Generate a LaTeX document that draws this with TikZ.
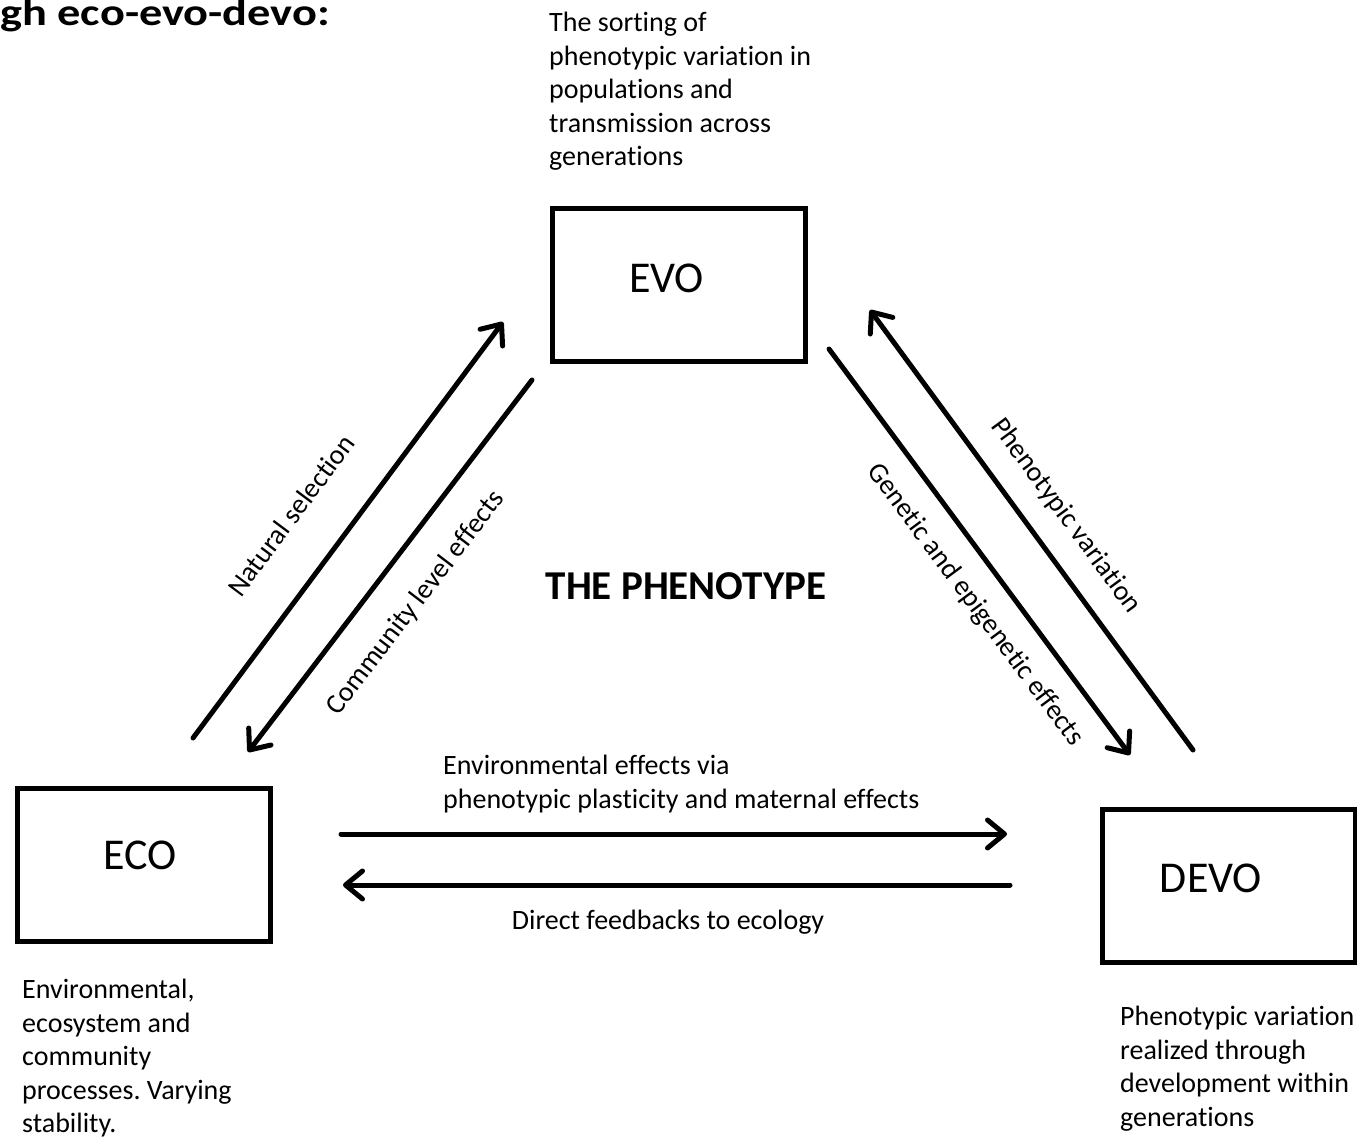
\documentclass[tikz,border=0pt]{standalone}
\usepackage{fontspec}
\setmainfont{Carlito}[Ligatures=NoCommon]
\frenchspacing
\usetikzlibrary{arrows.meta}
\tikzstyle{box} = [rectangle, draw=black, line width=5pt, minimum width=253pt, minimum height=153pt, inner sep=0pt]
\tikzstyle{boxtxt} = [font=\fontsize{44}{52}\selectfont, inner sep=0pt]
\tikzstyle{txt} = [font=\fontsize{28}{33.5}\selectfont, align=left, anchor=north west, inner sep=0pt]
\tikzstyle{lbl} = [font=\fontsize{28}{33.5}\selectfont, inner sep=0pt]
\tikzstyle{arrow} = [line width=5pt, line cap=round, -{Straight Barb[length=17pt,width=28pt,round]}]

\begin{document}
\begin{tikzpicture}[x=1pt, y=-1pt]
	\useasboundingbox (0,0) rectangle (1357,1140);
	% boxes
	\node (evo) [box] at (679,285) {};
	\node (eco) [box] at (144,864.5) {};
	\node (devo) [box] at (1229,886) {};
	\node (evotxt) [boxtxt] at (666.5,278) {EVO};
	\node (ecotxt) [boxtxt] at (140,855) {ECO};
	\node (devotxt) [boxtxt] at (1211,878) {DEVO};
	% texts
	\node (title) [font=\fontsize{38}{44}\selectfont\bfseries, inner sep=0pt, anchor=base west] at (0,26) {\scalebox{1.22}[1]{gh eco-evo-devo:}};
	\node (pheno) [font=\fontsize{41}{48}\selectfont\bfseries, inner sep=0pt] at (686,586) {THE PHENOTYPE};
	\node (evodesc) [txt] at (549,12) {The sorting of\\phenotypic variation in\\populations and\\transmission across\\generations};
	\node (ecodesc) [txt] at (22,979) {Environmental,\\ecosystem and\\community\\processes. Varying\\stability.};
	\node (devodesc) [txt] at (1120,1006) {Phenotypic variation\\realized through\\development within\\generations};
	\node (envdesc) [txt] at (443,755) {Environmental effects via\\phenotypic plasticity and maternal effects};
	\node (fbdesc) [lbl, anchor=base] at (668,929) {Direct feedbacks to ecology};
	\node (natlbl) [lbl, rotate=53.3] at (291,515) {Natural selection};
	\node (comlbl) [lbl, rotate=52.6] at (416,603) {Community level effects};
	\node (genlbl) [lbl, rotate=-53.4] at (975,605) {Genetic and epigenetic effects};
	\node (phvlbl) [lbl, rotate=-53.7] at (1066,516) {Phenotypic variation};
	% arrow ends
	\coordinate (natA) at (193,738);
	\coordinate (natB) at (503,322);
	\coordinate (comA) at (532,380);
	\coordinate (comB) at (248,752);
	\coordinate (genA) at (829,349);
	\coordinate (genB) at (1130,755);
	\coordinate (phvA) at (1193,750);
	\coordinate (phvB) at (870,310);
	\coordinate (envA) at (341,834);
	\coordinate (envB) at (1007,834);
	\coordinate (fbA) at (1010,885);
	\coordinate (fbB) at (343,885);
	\draw [arrow] (natA) -- (natB);
	\draw [arrow] (comA) -- (comB);
	\draw [arrow] (genA) -- (genB);
	\draw [arrow] (phvA) -- (phvB);
	\draw [arrow] (envA) -- (envB);
	\draw [arrow] (fbA) -- (fbB);
\end{tikzpicture}
\end{document}
